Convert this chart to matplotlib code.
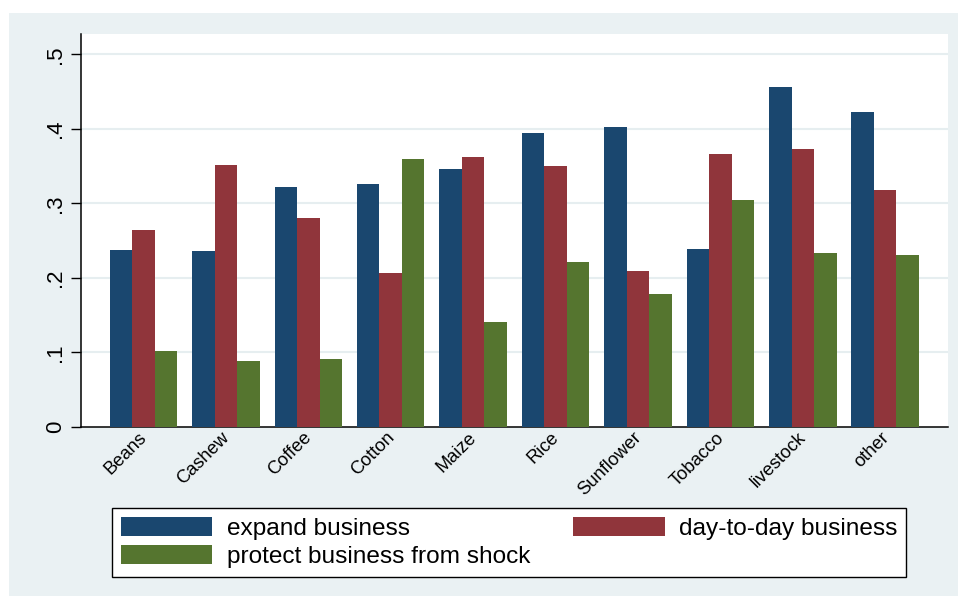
import numpy as np
import matplotlib
matplotlib.use('Agg')
import matplotlib.pyplot as plt
import matplotlib.transforms as mtransforms
from matplotlib.patches import Rectangle, Patch

plt.rcParams['font.family'] = ['Liberation Sans', 'DejaVu Sans']

crops = ['Beans', 'Cashew', 'Coffee', 'Cotton', 'Maize', 'Rice', 'Sunflower',
         'Tobacco', 'livestock', 'other']
expand = [0.237, 0.236, 0.322, 0.326, 0.346, 0.395, 0.403, 0.239, 0.457, 0.423]
day_to_day = [0.265, 0.351, 0.281, 0.207, 0.362, 0.350, 0.209, 0.367, 0.373, 0.318]
protect = [0.102, 0.088, 0.091, 0.360, 0.141, 0.222, 0.178, 0.305, 0.233, 0.231]
ytick_vals = [0, 0.1, 0.2, 0.3, 0.4, 0.5]
ytick_labels = ['0', '.1', '.2', '.3', '.4', '.5']

navy = '#1a476f'
maroon = '#90353b'
green = '#55752f'
panel = '#eaf1f3'
W, H = 958, 596

fig = plt.figure(figsize=(W / 100, H / 100), dpi=100)
fig.patch.set_facecolor('white')
# stata-like graph region
fig.add_artist(Rectangle((9 / W, 0), 1 - 9 / W, (H - 13) / H,
                         transform=fig.transFigure, facecolor=panel,
                         edgecolor='none', zorder=0))

ax = fig.add_axes([80.7 / W, (H - 427) / H, (948 - 80.7) / W, (427 - 34) / H])
ax.set_facecolor('white')

x = np.arange(len(crops))
w = 0.273
ax.bar(x - w, expand, w, color=navy, zorder=3)
ax.bar(x, day_to_day, w, color=maroon, zorder=3)
ax.bar(x + w, protect, w, color=green, zorder=3)

ax.set_xlim(-0.7615, len(crops) - 1 + 0.7615)
ax.set_ylim(0, 0.5275)

ax.set_yticks(ytick_vals)
ax.set_yticklabels(ytick_labels, rotation=90, va='center', fontsize=16)
ax.tick_params(axis='y', length=7, width=1, pad=3.5, colors='black')
for v in ytick_vals[1:]:
    ax.axhline(v, color='#e6eef0', lw=1.5, zorder=1)

ax.set_xticks(x)
ax.set_xticklabels(crops, rotation=45, ha='right', va='top',
                   rotation_mode='anchor', fontsize=13.2)
ax.tick_params(axis='x', length=0, pad=1.5)
shift = mtransforms.ScaledTranslation(-5 / 100, 0, fig.dpi_scale_trans)
for lab in ax.get_xticklabels():
    lab.set_transform(lab.get_transform() + shift)

for s in ['top', 'right']:
    ax.spines[s].set_visible(False)
ax.spines['left'].set_linewidth(1.1)
ax.spines['bottom'].set_linewidth(1.1)

handles = [Patch(facecolor=navy, label='expand business'),
           Patch(facecolor=green, label='protect business from shock'),
           Patch(facecolor=maroon, label='day-to-day business')]
leg = fig.legend(handles=handles, ncol=2, loc='upper left',
                 bbox_to_anchor=(111.7 / W, (H - 508) / H),
                 fontsize=17.6, handlelength=3.75, handleheight=0.8,
                 handletextpad=0.6, labelspacing=0.22, borderpad=0.36,
                 columnspacing=1.75, borderaxespad=0, fancybox=False,
                 framealpha=1, edgecolor='black')
leg.get_frame().set_linewidth(1)

fig.savefig('out.png', dpi=100)
